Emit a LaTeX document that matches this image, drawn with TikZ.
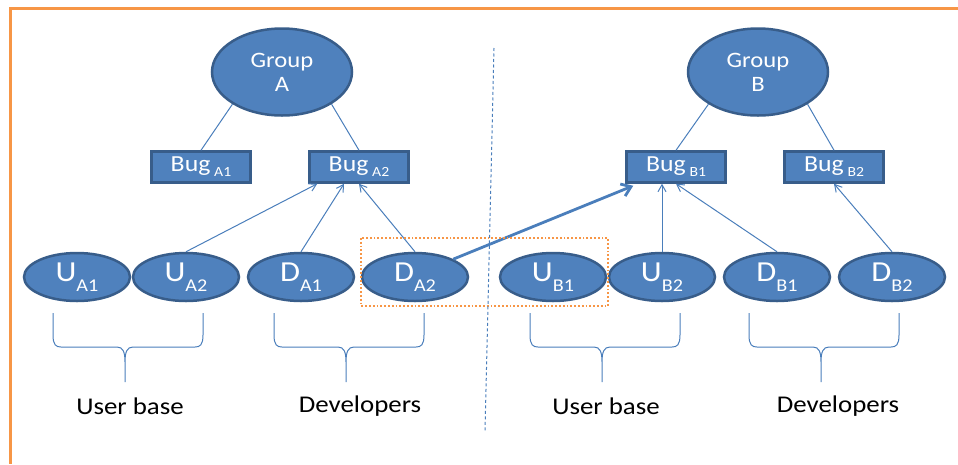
\documentclass[tikz,border=0pt]{standalone}
\usepackage{fontspec}
\setmainfont{Carlito}[FakeStretch=1.12]
\usetikzlibrary{shapes.geometric,arrows.meta}
\definecolor{boxblue}{HTML}{4F81BD}
\definecolor{edgeblue}{HTML}{385D8A}
\definecolor{lineblue}{HTML}{4A7EBB}
\definecolor{frameorange}{HTML}{F79646}
\newcommand\bugidx[1]{\,\raisebox{-.45ex}{\fontsize{14}{14}\selectfont#1}}
\newcommand\whoidx[1]{\raisebox{-.7ex}{\fontsize{18}{18}\selectfont#1}}
\tikzset{
	grp/.style={ellipse,draw=edgeblue,fill=boxblue,line width=2.5pt,minimum width=140pt,minimum height=87pt,inner sep=0pt,text=white,align=center,font=\fontsize{22}{24}\selectfont},
	bug/.style={rectangle,draw=edgeblue,fill=boxblue,line width=2.5pt,minimum width=99pt,minimum height=31pt,inner sep=0pt,text=white,font=\fontsize{23}{24}\selectfont},
	who/.style={ellipse,draw=edgeblue,fill=boxblue,line width=2.5pt,minimum width=106pt,minimum height=48pt,inner sep=0pt,text=white,font=\fontsize{29}{30}\selectfont},
	lnk/.style={draw=lineblue,line width=1pt},
	arr/.style={lnk,-{Straight Barb[length=7pt,width=8pt]}},
	bigarr/.style={draw=lineblue,line width=2.8pt,-{Straight Barb[length=9pt,width=13pt]}},
	crly/.style={draw=lineblue,line width=1pt},
	lbl/.style={font=\fontsize{24}{26}\selectfont}
}
\begin{document}
\begin{tikzpicture}[x=1pt,y=-1pt]
	\useasboundingbox (0,0) rectangle (958,464);
	% frame
	\draw[frameorange,line width=3pt] (958,8)--(10,8)--(10,464);
	% groups and bugs
	\node[grp] (grpA) at (282,72) {Group\\A};
	\node[grp] (grpB) at (758,72) {Group\\B};
	\node[bug] (bugA1) at (201,167) {Bug\bugidx{A1}};
	\node[bug] (bugA2) at (359,167) {Bug\bugidx{A2}};
	\node[bug] (bugB1) at (676,167) {Bug\bugidx{B1}};
	\node[bug] (bugB2) at (834,167) {Bug\bugidx{B2}};
	% users and developers
	\foreach \n/\x/\t in {uA1/77/U\whoidx{A1},uA2/186/U\whoidx{A2},dA1/301/D\whoidx{A1},dA2/415/D\whoidx{A2},
		uB1/553/U\whoidx{B1},uB2/662/U\whoidx{B2},dB1/777/D\whoidx{B1},dB2/892/D\whoidx{B2}}
		\node[who] (\n) at (\x,277) {\t};
	% group -> bug
	\draw[lnk] (grpA.213)--(bugA1.north) (grpA.327)--(bugA2.north);
	\draw[lnk] (grpB.213)--(bugB1.north) (grpB.327)--(bugB2.north);
	% reports
	\draw[arr] (uA2.north)--([xshift=9pt]bugA2.south west);
	\draw[arr] (dA1.north)--([xshift=-15pt]bugA2.south);
	\draw[arr] (dA2.north)--(bugA2.south);
	\draw[arr] (uB2.north)--(uB2.north |- bugB1.south);
	\draw[arr] (dB1.north)--(bugB1.south);
	\draw[arr] (dB2.north)--(bugB2.south);
	\draw[bigarr] (dA2.25)--([xshift=8pt,yshift=-2pt]bugB1.south west);
	% highlight and divider
	\draw[frameorange,line width=1.8pt,dotted] (361,238) rectangle (608,306);
	\draw[lineblue,line width=1pt,dash pattern=on 3pt off 2.5pt] (494,48)--(485,432);
	% braces
	\foreach \bx in {53,274,530,749}
		\draw[crly] (\bx,313)--(\bx,335) .. controls (\bx,345) and ({\bx+3},347) .. ({\bx+8},347)
		--({\bx+64},347) .. controls ({\bx+70},347) and ({\bx+72},352) .. ({\bx+72},362)--({\bx+72},382)
		({\bx+72},362) .. controls ({\bx+72},352) and ({\bx+74},347) .. ({\bx+80},347)
		--({\bx+142},347) .. controls ({\bx+147},347) and ({\bx+150},345) .. ({\bx+150},335)--({\bx+150},313);
	% labels
	\node[lbl] (usrA) at (130,406) {User base};
	\node[lbl] (devA) at (360,406) {Developers};
	\node[lbl] (usrB) at (606,406) {User base};
	\node[lbl] (devB) at (838,406) {Developers};
\end{tikzpicture}
\end{document}
